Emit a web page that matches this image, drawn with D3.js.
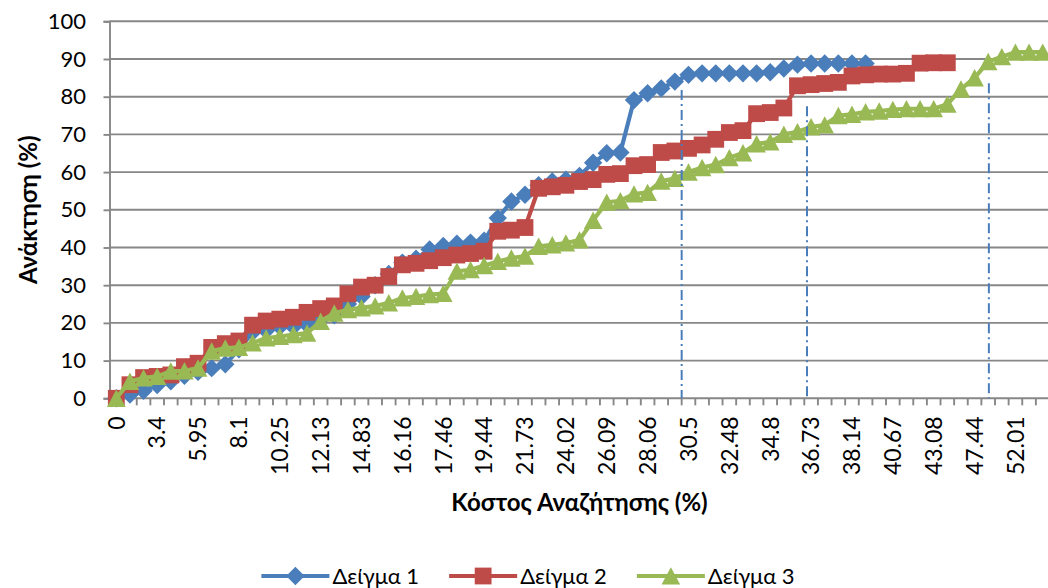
<!DOCTYPE html>
<html>
<head>
<meta charset="utf-8">
<script src="https://cdn.jsdelivr.net/npm/d3@7"></script>
<style>
  html, body { margin: 0; padding: 0; background: #fff; }
  svg { display: block; font-family: Lato, "Open Sans", sans-serif; }
</style>
</head>
<body>
<svg id="chart" width="1048" height="588"></svg>
<script>
// Series names and colours
const seriesNames = ["Δείγμα 1", "Δείγμα 2", "Δείγμα 3"];
const seriesColors = ["#4a7ebb", "#be4b48", "#98b954"];

// Cost labels shown under every third category
const tickLabels = ["0", "3.4", "5.95", "8.1", "10.25", "12.13", "14.83", "16.16", "17.46", "19.44",
  "21.73", "24.02", "26.09", "28.06", "30.5", "32.48", "34.8", "36.73", "38.14", "40.67",
  "43.08", "47.44", "52.01"];

// Recall (%) per category for each sample
const sample1 = [0, 1, 2, 3.5, 4.5, 6, 7, 8, 9, 13, 17.5, 18, 19, 19, 19.5, 21, 22, 25, 27, 30,
  33, 36, 37, 39.5, 40.4, 41, 41.3, 41.8, 47.8, 52.2, 54, 56.5, 57.5, 58, 59, 62.5, 65, 65.2, 79.1, 80.9,
  82.2, 84, 85.8, 86.2, 86.2, 86.2, 86.2, 86.2, 86.5, 87.5, 88.5, 88.8, 88.8, 88.8, 88.8, 88.8];
const sample2 = [0, 3.6, 5.5, 5.8, 6.2, 8.4, 9.3, 13.5, 14.5, 15.2, 19.4, 20.5, 21, 21.5, 22.8, 23.8, 24.5, 27.7, 29.5, 30,
  32.3, 35.4, 35.8, 36.5, 37.3, 38, 38.4, 39, 44.3, 44.6, 45.3, 55.7, 56.1, 56.5, 57.5, 58, 59.4, 59.6, 61.7, 62,
  65.2, 65.6, 66.3, 67.2, 68.7, 70.5, 71, 75.5, 75.8, 77, 82.9, 83.2, 83.5, 83.8, 85.5, 85.8, 86, 86, 86.2, 88.9,
  89, 89];
const sample3 = [0, 4.5, 5.4, 5.8, 7.2, 7.3, 8, 12.5, 13.3, 13.5, 14.7, 16, 16.4, 16.9, 17.3, 20.4, 22.6, 23.5, 24, 24.5,
  25.3, 26.6, 27, 27.5, 27.8, 33.7, 34.1, 35.2, 36.3, 37.2, 37.7, 40.3, 40.7, 41.2, 42, 47.2, 52, 52.4, 54.2, 54.6,
  57.6, 58.3, 60, 61.2, 62, 63.8, 65.1, 67.5, 68, 70, 70.7, 72, 72.5, 75, 75.3, 76, 76.2, 76.6, 76.8, 76.8,
  76.8, 78, 82, 85, 89.3, 90.6, 91.8, 91.8, 91.8];

// Recall axis ticks
const yTicks = [0, 10, 20, 30, 40, 50, 60, 70, 80, 90, 100];

// Dash-dot guides: category position and recall where each starts
const guideCategory = [41.5, 50.7, 64.05];
const guideTop = [81.8, 77.5, 83.6];

const W = 1048, H = 588;
const plot = { left: 109.5, right: 1049.5, top: 21.3, bottom: 398.3 };
const gridColor = "#878787";

const svg = d3.select("#chart");
const categories = d3.range(sample3.length);

const x = d3.scaleBand().domain(categories).range([plot.left, plot.right]).padding(0);
const xc = i => x(i) + x.bandwidth() / 2;
const xPos = d3.scaleLinear().domain([-0.5, categories.length - 0.5]).range([plot.left, plot.right]);
const y = d3.scaleLinear().domain([0, 100]).range([plot.bottom, plot.top]);

// Horizontal gridlines
svg.append("g")
  .selectAll("line")
  .data(yTicks.filter(v => v > 0))
  .join("line")
  .attr("x1", plot.left).attr("x2", plot.right)
  .attr("y1", d => y(d)).attr("y2", d => y(d))
  .attr("stroke", gridColor).attr("stroke-width", 1.9);

// Vertical axis
const yAxis = svg.append("g")
  .attr("transform", `translate(${plot.left},0)`)
  .call(d3.axisLeft(y).tickValues(yTicks).tickSize(6).tickPadding(17.5).tickFormat(d3.format("d")));
yAxis.select(".domain").attr("stroke", gridColor).attr("stroke-width", 1.9);
yAxis.selectAll(".tick line").attr("stroke", gridColor).attr("stroke-width", 1.9);
yAxis.selectAll(".tick text")
  .attr("font-family", "Lato").attr("font-size", 22).attr("fill", "#000");

// Horizontal axis line and category tick marks
svg.append("line")
  .attr("x1", plot.left).attr("x2", plot.right)
  .attr("y1", y(0)).attr("y2", y(0))
  .attr("stroke", gridColor).attr("stroke-width", 1.9);
svg.append("g")
  .selectAll("line")
  .data(categories.concat([categories.length]))
  .join("line")
  .attr("x1", d => xPos(d - 0.5)).attr("x2", d => xPos(d - 0.5))
  .attr("y1", y(0)).attr("y2", y(0) + 7)
  .attr("stroke", gridColor).attr("stroke-width", 1.9);

// Category labels (every third category)
const xAxis = svg.append("g")
  .attr("transform", `translate(0,${y(0)})`)
  .call(d3.axisBottom(x)
    .tickValues(categories.filter(i => i % 3 === 0))
    .tickFormat(i => tickLabels[i / 3])
    .tickSize(0));
xAxis.select(".domain").remove();
xAxis.selectAll(".tick text")
  .attr("font-family", "Lato").attr("font-size", 23).attr("fill", "#000")
  .attr("text-anchor", "end")
  .attr("transform", "translate(0,18) rotate(-90)")
  .attr("x", 0).attr("y", 0).attr("dy", "0.36em");

// Axis titles
svg.append("text")
  .attr("transform", `translate(28,${(plot.top + plot.bottom) / 2}) rotate(-90)`)
  .attr("text-anchor", "middle").attr("dy", "0.36em")
  .attr("font-family", "Lato").attr("font-weight", "bold").attr("font-size", 24)
  .text("Ανάκτηση (%)");
svg.append("text")
  .attr("x", (plot.left + plot.right) / 2).attr("y", 511)
  .attr("text-anchor", "middle")
  .attr("font-family", "Lato").attr("font-weight", "bold").attr("font-size", 24)
  .text("Κόστος Αναζήτησης (%)");

// Marker shapes
const markerPaths = [
  "M0,-9.2L9.2,0L0,9.2L-9.2,0Z",
  "M-8.4,-8.4H8.4V8.4H-8.4Z",
  "M0,-8.8L9.3,8.6L-9.3,8.6Z"
];

const allSeries = [sample1, sample2, sample3];
const line = d3.line().x((d, i) => xc(i)).y(d => y(d));

allSeries.forEach((values, s) => {
  const g = svg.append("g");
  g.append("path")
    .datum(values)
    .attr("d", line)
    .attr("fill", "none")
    .attr("stroke", seriesColors[s])
    .attr("stroke-width", 4.2)
    .attr("stroke-linejoin", "round");
  g.selectAll("path.marker")
    .data(values)
    .join("path")
    .attr("class", "marker")
    .attr("d", markerPaths[s])
    .attr("transform", (d, i) => `translate(${xc(i)},${y(d)})`)
    .attr("fill", seriesColors[s]);
});

// Dash-dot guides
svg.append("g")
  .selectAll("line")
  .data(guideCategory)
  .join("line")
  .attr("x1", d => xPos(d)).attr("x2", d => xPos(d))
  .attr("y1", (d, i) => y(guideTop[i])).attr("y2", y(0))
  .attr("stroke", "#4a7ebb").attr("stroke-width", 2)
  .attr("stroke-dasharray", "10,4,2,4");

// Legend centred under the chart
const legend = svg.append("g");
const items = legend.selectAll("g")
  .data(seriesNames)
  .join("g");
items.append("line")
  .attr("x1", 0).attr("x2", 68).attr("y1", 0).attr("y2", 0)
  .attr("stroke", (d, i) => seriesColors[i]).attr("stroke-width", 4.2);
items.append("path")
  .attr("d", (d, i) => markerPaths[i])
  .attr("transform", "translate(34,0)")
  .attr("fill", (d, i) => seriesColors[i]);
items.append("text")
  .attr("x", 71).attr("dy", "0.36em")
  .attr("font-family", "Lato").attr("font-size", 22).attr("fill", "#000")
  .text(d => d);
const widths = [];
items.each(function () { widths.push(this.getBBox().width); });
const gap = 30;
const total = d3.sum(widths) + gap * (widths.length - 1);
let offset = 528 - total / 2;
items.attr("transform", (d, i) => {
  const t = `translate(${offset},576)`;
  offset += widths[i] + gap;
  return t;
});
</script>
</body>
</html>
